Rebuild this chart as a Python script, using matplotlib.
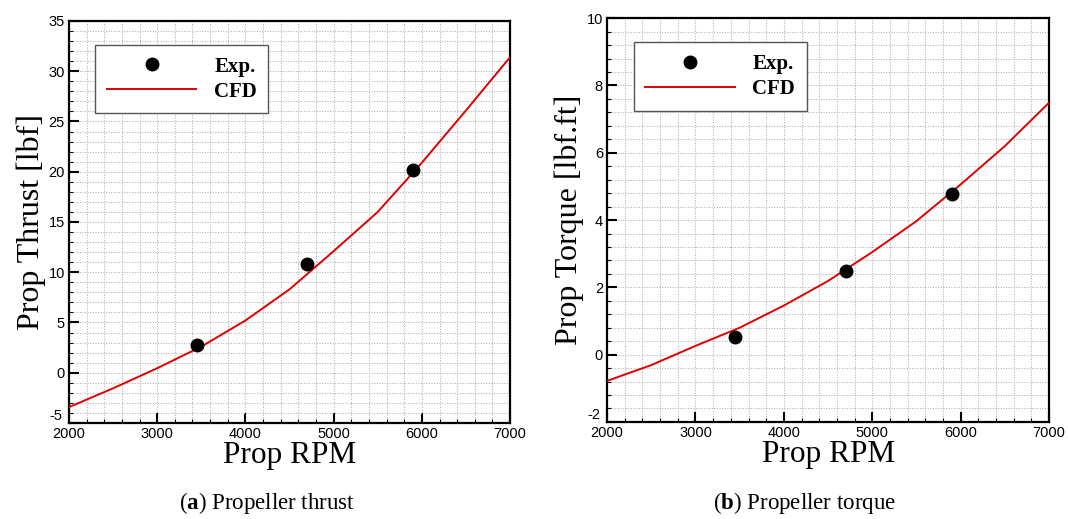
import matplotlib
matplotlib.use('Agg')
import matplotlib.pyplot as plt
from matplotlib.ticker import MultipleLocator, FuncFormatter

# data
exp_rpm = [3450, 4700, 5900]
exp_thrust = [2.8, 10.8, 20.2]
exp_torque = [0.52, 2.48, 4.76]

cfd_rpm = [2000, 2500, 3000, 3500, 4000, 4500, 5000, 5500, 6000, 6500, 7000]
cfd_thrust = [-3.42, -1.55, 0.45, 2.6, 5.2, 8.3, 12.1, 16.0, 20.9, 26.1, 31.4]
cfd_torque = [-0.78, -0.31, 0.26, 0.8, 1.46, 2.19, 3.05, 3.97, 5.06, 6.2, 7.49]

plt.rcParams['mathtext.fontset'] = 'custom'
plt.rcParams['mathtext.rm'] = 'Liberation Serif'
plt.rcParams['mathtext.bf'] = 'Liberation Serif:bold'

fig = plt.figure(figsize=(10.68, 5.19), dpi=100)


def draw_panel(rect, cfd_y, exp_y, ylim, ymajor, yminor, ylabel, caption, cap_x):
    ax = fig.add_axes(rect)
    ax.plot(cfd_rpm, cfd_y, color='#e00000', lw=1.4, label='CFD', zorder=3)
    ax.plot(exp_rpm, exp_y, 'o', color='black', ms=9, label='Exp.', zorder=4)
    ax.set_xlim(2000, 7000)
    ax.set_ylim(*ylim)
    ax.xaxis.set_major_locator(MultipleLocator(1000))
    ax.xaxis.set_minor_locator(MultipleLocator(200))
    ax.yaxis.set_major_locator(MultipleLocator(ymajor))
    ax.yaxis.set_minor_locator(MultipleLocator(yminor))
    ymin = ylim[0]
    ax.yaxis.set_major_formatter(FuncFormatter(
        lambda v, p: '' if abs(v - ymin) < 1e-9 else f'{v:g}'))
    ax.grid(True, which='both', linestyle=(0, (1, 1.5)), color='#b0b0b0', lw=0.75)
    ax.set_axisbelow(True)
    for s in ax.spines.values():
        s.set_linewidth(1.6)
    ax.tick_params(which='major', direction='in', length=7, width=1.5,
                   labelsize=10.5, pad=3, labelfontfamily='Liberation Sans')
    ax.tick_params(which='minor', direction='in', length=3, width=0.8)
    # lowest y label sits slightly above the axis line, as in the source
    ax.text(-0.015, 0.0, f'{ymin:g}', transform=ax.transAxes, ha='right', va='bottom',
            family='Liberation Sans', fontsize=10.5)
    ax.set_xlabel('Prop RPM', family='Liberation Serif', fontsize=22.5, labelpad=0)
    ax.set_ylabel(ylabel, family='Liberation Serif', fontsize=23, labelpad=2)
    h, l = ax.get_legend_handles_labels()
    leg = ax.legend(h[::-1], l[::-1], loc='upper left', bbox_to_anchor=(0.06, 0.94),
                    borderaxespad=0, fancybox=False, edgecolor='#555555', framealpha=1,
                    handlelength=4.3, handletextpad=0.85, borderpad=0.55,
                    labelspacing=0.25, markerfirst=True,
                    prop={'family': 'Liberation Serif', 'weight': 'bold', 'size': 15})
    leg.get_frame().set_linewidth(1.0)
    fig.text(cap_x, 0.03, caption, ha='center', va='center',
             family='Liberation Serif', fontsize=16.5)
    return ax


draw_panel([0.0646, 0.185, 0.413, 0.7746], cfd_thrust, exp_thrust, (-5, 35), 5, 1,
           'Prop Thrust [lbf]', r'($\mathbf{a}$) Propeller thrust', 267 / 1068)
draw_panel([0.5684, 0.187, 0.4139, 0.778], cfd_torque, exp_torque, (-2, 10), 2, 0.4,
           'Prop Torque [lbf.ft]', r'($\mathbf{b}$) Propeller torque', 804 / 1068)

fig.savefig('out.png', dpi=100)
